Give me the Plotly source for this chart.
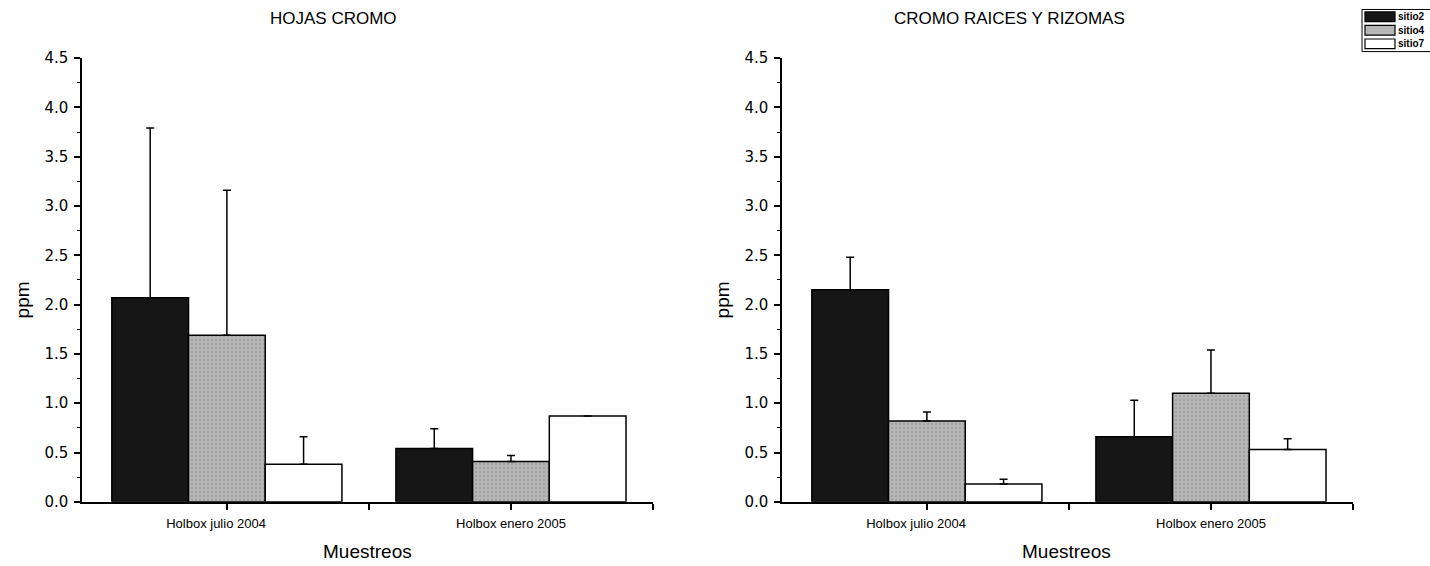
import plotly.graph_objects as go

# Sampling campaigns and sites
muestreos = ["Holbox julio 2004", "Holbox enero 2005"]
sitios = ["sitio2", "sitio4", "sitio7"]

# Chromium in leaves (ppm): mean and upper error per site
hojas_sitio2 = [2.07, 0.54]
hojas_sitio4 = [1.69, 0.41]
hojas_sitio7 = [0.38, 0.87]
hojas_err_sitio2 = [1.72, 0.20]
hojas_err_sitio4 = [1.47, 0.06]
hojas_err_sitio7 = [0.28, 0.0]

# Chromium in roots and rhizomes (ppm)
raices_sitio2 = [2.15, 0.66]
raices_sitio4 = [0.82, 1.10]
raices_sitio7 = [0.18, 0.53]
raices_err_sitio2 = [0.33, 0.37]
raices_err_sitio4 = [0.09, 0.44]
raices_err_sitio7 = [0.05, 0.11]

y_ticks = [0.0, 0.5, 1.0, 1.5, 2.0, 2.5, 3.0, 3.5, 4.0, 4.5]

FONT = "Liberation Sans, Arial, sans-serif"
TICK_FONT = "DejaVu Sans, Liberation Sans, sans-serif"
W, H = 1430, 566

styles = {
    "sitio2": dict(color="#161616", pattern=None),
    "sitio4": dict(color="#b7b7b7",
                   pattern=dict(shape=".", fgcolor="#8a8a8a", size=4, solidity=0.25)),
    "sitio7": dict(color="#ffffff", pattern=None),
}

x_pos = list(range(len(muestreos)))

fig = go.Figure()


def add_panel(series, errors, xa, ya):
    for name, vals, errs in zip(sitios, series, errors):
        st = styles[name]
        marker = dict(color=st["color"], line=dict(color="#000000", width=1.5))
        if st["pattern"]:
            marker["pattern"] = st["pattern"]
        fig.add_trace(go.Bar(
            x=x_pos, y=vals, name=name, marker=marker,
            error_y=dict(type="data", symmetric=False, array=errs,
                         arrayminus=[0] * len(errs), color="#000000",
                         thickness=1.5, width=4),
            xaxis=xa, yaxis=ya, showlegend=False,
        ))


add_panel([hojas_sitio2, hojas_sitio4, hojas_sitio7],
          [hojas_err_sitio2, hojas_err_sitio4, hojas_err_sitio7], "x", "y")
add_panel([raices_sitio2, raices_sitio4, raices_sitio7],
          [raices_err_sitio2, raices_err_sitio4, raices_err_sitio7], "x2", "y2")

# Plot areas in pixels
left_dom = [82 / W, 653 / W]
right_dom = [782 / W, 1353 / W]
y_dom = [(H - 509) / H, (H - 50.7) / H]

# Category labels sit slightly left of their ticks
pad = "\u00a0" * 6
xaxis_common = dict(
    range=[-0.51, 1.5], showline=True, linecolor="#000000", linewidth=1.5,
    tickmode="array", tickvals=[0, 0.5, 1, 1.5],
    ticktext=[muestreos[0] + pad, "", muestreos[1], ""],
    ticks="outside", ticklen=6, tickwidth=1.5, tickcolor="#000000",
    ticklabelstandoff=3,
    showgrid=False, zeroline=False,
    tickfont=dict(family=FONT, size=13, color="#000000"),
)
yaxis_common = dict(
    range=[0, 4.5], showline=True, linecolor="#000000", linewidth=1.5,
    tickmode="array", tickvals=y_ticks, ticktext=[f"{v:.1f}" for v in y_ticks],
    ticks="outside", ticklen=6, tickwidth=1.5, tickcolor="#000000",
    ticklabelstandoff=3,
    minor=dict(ticks="outside", ticklen=3, dtick=0.25, tick0=0, tickcolor="#000000",
               tickwidth=1.2, showgrid=False),
    showgrid=False, zeroline=False,
    tickfont=dict(family=TICK_FONT, size=15, color="#000000"),
)

fig.update_layout(
    width=W, height=H,
    margin=dict(l=0, r=0, t=0, b=0),
    paper_bgcolor="#ffffff", plot_bgcolor="#ffffff",
    barmode="group", bargap=0.19, bargroupgap=0,
    xaxis=dict(domain=left_dom, anchor="y", **xaxis_common),
    yaxis=dict(domain=y_dom, anchor="x", **yaxis_common),
    xaxis2=dict(domain=right_dom, anchor="y2", **xaxis_common),
    yaxis2=dict(domain=y_dom, anchor="x2", **yaxis_common),
    showlegend=False,
)


def label(text, px, py, size, angle=0, anchor="center", bold=False):
    return dict(text=f"<b>{text}</b>" if bold else text, x=px / W, y=1 - py / H,
                xref="paper", yref="paper", xanchor=anchor, yanchor="middle",
                showarrow=False, textangle=angle, borderpad=0,
                font=dict(family=FONT, size=size, color="#000000"))


annotations = [
    label("HOJAS CROMO", 333, 10, 17),
    label("CROMO RAICES Y RIZOMAS", 1010, 10, 17),
    label("Muestreos", 367, 560, 19),
    label("Muestreos", 1066, 560, 19),
    label("ppm", 22, 301, 19, angle=-90),
    label("ppm", 722, 301, 19, angle=-90),
]

# Legend box with wide swatches in the top-right corner
shapes = []
lx0, ly0, row_h = 1362, 0.5, 14
shapes.append(dict(type="rect", xref="paper", yref="paper",
                   x0=lx0 / W, x1=1.01, y0=1 - (ly0 + 3 * row_h + 1.5) / H, y1=1 - ly0 / H,
                   line=dict(color="#000000", width=1), fillcolor="#ffffff", layer="above"))
for i, name in enumerate(sitios):
    cy = ly0 + row_h * (i + 0.5) + 0.5
    shapes.append(dict(type="rect", xref="paper", yref="paper",
                       x0=(lx0 + 3) / W, x1=(lx0 + 33) / W,
                       y0=1 - (cy + 5) / H, y1=1 - (cy - 5) / H,
                       line=dict(color="#000000", width=1.2),
                       fillcolor=styles[name]["color"], layer="above"))
    annotations.append(label(name, lx0 + 35, cy, 10, anchor="left", bold=True))

fig.update_layout(annotations=annotations, shapes=shapes)

fig.write_html("out.html")
